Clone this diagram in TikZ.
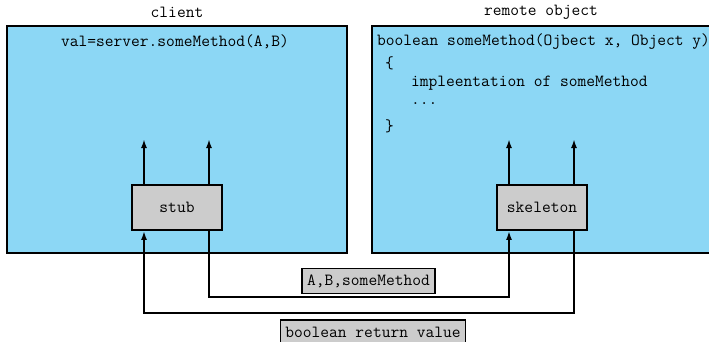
\documentclass[tikz,border=0pt]{standalone}
\usepackage{fontspec}
\usetikzlibrary{arrows.meta}
\definecolor{procblue}{RGB}{140,215,245}
\definecolor{boxgray}{RGB}{204,204,204}

\begin{document}
\begin{tikzpicture}[x=1pt,y=-1pt,font=\ttfamily\fontsize{17}{20}\selectfont,
  proc/.style={draw,line width=1.8pt,fill=procblue,minimum width=340pt,minimum height=227pt,inner sep=0pt},
  proxy/.style={draw,line width=1.8pt,fill=boxgray,minimum width=90pt,minimum height=45pt,inner sep=0pt},
  tag/.style={draw,line width=1.6pt,fill=boxgray,minimum height=25pt,inner xsep=5pt,inner ysep=0pt},
  wire/.style={line width=1.8pt,-{Latex[length=9pt,width=6pt]}}]
    \useasboundingbox (0,0) rectangle (709,342);
    % the two processes
    \node[proc] (client) at (177,139.5) {};
    \node[proc] (remote) at (542,139.5) {};
    \node (clientname) at (177,12) {client};
    \node (remotename) at (541,12) {remote object};
    \node (call) at (175,42) {val=server.someMethod(A,B)};
    \node[anchor=west,inner sep=0pt] (sig) at (377,42) {boolean someMethod(Ojbect x, Object y)};
    \node[anchor=west,inner sep=0pt] (open) at (385,63) {\{};
    \node[anchor=west,inner sep=0pt] (body) at (411,83) {impleentation of someMethod};
    \node[anchor=west,inner sep=0pt] (dots) at (411,104) {...};
    \node[anchor=west,inner sep=0pt] (close) at (385,126) {\}};
    % proxies
    \node[proxy] (stub) at (177,207.5) {stub};
    \node[proxy] (skel) at (542,207.5) {skeleton};
    \coordinate (s1) at (144,139);
    \coordinate (s2) at (209,139);
    \coordinate (k1) at (509,139);
    \coordinate (k2) at (574,139);
    \draw[wire] (stub.north -| s1) -- (s1);
    \draw[wire] (stub.north -| s2) -- (s2);
    \draw[wire] (skel.north -| k1) -- (k1);
    \draw[wire] (skel.north -| k2) -- (k2);
    % messages
    \coordinate (req) at (0,297);
    \coordinate (ret) at (0,313);
    \draw[wire] (stub.south -| s2) |- (req -| k1) -- (skel.south -| k1);
    \draw[wire] (skel.south -| k2) |- (ret -| s1) -- (stub.south -| s1);
    \node[tag] (args) at (368.5,281) {A,B,someMethod};
    \node[tag] (result) at (373,332.5) {boolean return value};
\end{tikzpicture}
\end{document}
